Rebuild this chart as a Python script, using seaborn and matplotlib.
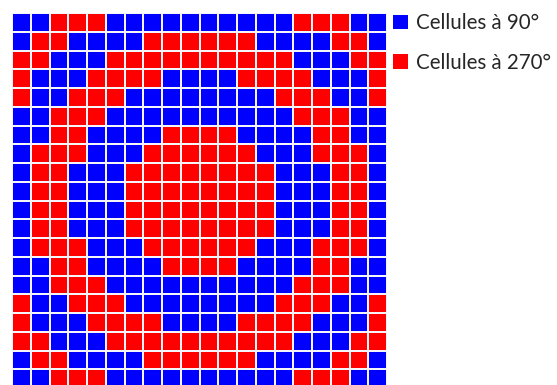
import matplotlib
matplotlib.use("Agg")
import matplotlib.pyplot as plt
from matplotlib.colors import ListedColormap
from matplotlib.patches import Patch
import numpy as np
import seaborn as sns

# Orientation de chaque cellule: B = 90°, R = 270°
grid_rows = [
    "BBRRRBBBBBBBBBBRRRBB",
    "BRRBBBBRRRRRRBBBBRRB",
    "RRBBBRRRRRRRRRRBBBRR",
    "RBBBRRRRBBBBRRRRBBBR",
    "RBBRRRBBBBBBBBRRRBBR",
    "BBRRRBBBBBBBBBBRRRBB",
    "BBRRBBBBRRRRBBBBRRBB",
    "BRRRBBBRRRRRRBBBRRRB",
    "BRRBBBRRRRRRRRBBBRRB",
    "BRRBBBRRRRRRRRBBBRRB",
    "BRRBBBRRRRRRRRBBBRRB",
    "BRRBBBRRRRRRRRBBBRRB",
    "BRRRBBBRRRRRRBBBRRRB",
    "BBRRBBBBRRRRBBBBRRBB",
    "BBRRRBBBBBBBBBBRRRBB",
    "RBBRRRBBBBBBBBRRRBBR",
    "RBBBRRRRBBBBRRRRBBBR",
    "RRBBBRRRRRRRRRRBBBRR",
    "BRRBBBBRRRRRRBBBBRRB",
    "BBRRRBBBBBBBBBBRRRBB",
]
labels = ["Cellules à 90°", "Cellules à 270°"]
colors = ["#0000ff", "#ff0000"]

matrix = np.array([[1 if c == "R" else 0 for c in row] for row in grid_rows])

sns.set_theme(style="white")
plt.rcParams["font.family"] = ["Lato", "DejaVu Sans"]

fig = plt.figure(figsize=(5.57, 3.85), dpi=100)
ax = fig.add_axes([12 / 557, -3 / 385, 375 / 557, 375 / 385])

sns.heatmap(
    matrix,
    ax=ax,
    cmap=ListedColormap(colors),
    vmin=0,
    vmax=1,
    cbar=False,
    linewidths=1.1,
    linecolor="#f4f4fa",
    xticklabels=False,
    yticklabels=False,
)

handles = [Patch(facecolor=c, edgecolor="none") for c in colors]
fig.legend(
    handles,
    labels,
    loc="upper left",
    bbox_to_anchor=(389 / 557, 1 - 9 / 385),
    frameon=False,
    fontsize=14.8,
    handlelength=0.72,
    handleheight=0.72,
    handletextpad=0.4,
    labelspacing=0.95,
    borderaxespad=0,
    borderpad=0.2,
)

fig.savefig("out.png", dpi=100)
